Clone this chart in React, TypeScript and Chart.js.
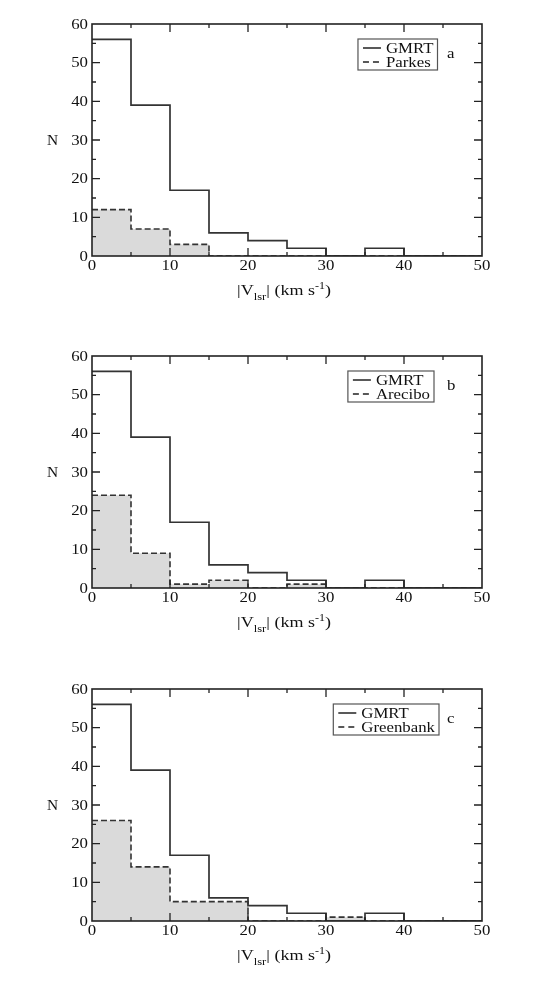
import React, { useEffect, useRef } from "react";
import { Chart, registerables } from "chart.js";

Chart.register(...registerables);

// ---- data ----
const binStarts = [0, 5, 10, 15, 20, 25, 30, 35, 40, 45];
const binWidth = 5;
const gmrtCounts = [56, 39, 17, 6, 4, 2, 0, 2, 0, 0];
const parkesCounts = [12, 7, 3, 0, 0, 0, 0, 0, 0, 0];
const areciboCounts = [24, 9, 1, 2, 0, 1, 0, 0, 0, 0];
const greenbankCounts = [26, 14, 5, 5, 0, 0, 1, 0, 0, 0];
const xTickValues = [0, 10, 20, 30, 40, 50];
const xTickLabels = ["0", "10", "20", "30", "40", "50"];
const yTickValues = [0, 10, 20, 30, 40, 50, 60];
const yTickLabels = ["0", "10", "20", "30", "40", "50", "60"];
const mainName = "GMRT";
const compareNames = ["Parkes", "Arecibo", "Greenbank"];
const panelLetters = ["a", "b", "c"];
const xMin = 0, xMax = 50, yMin = 0, yMax = 60;

const compareSeries = [parkesCounts, areciboCounts, greenbankCounts];

function toSteps(counts: number[]) {
  const pts = counts.map((c, i) => ({ x: binStarts[i], y: c }));
  pts.push({ x: binStarts[binStarts.length - 1] + binWidth, y: counts[counts.length - 1] });
  return pts;
}

const SERIF = '"Liberation Serif", "Times New Roman", serif';
const SX = 1.2; // horizontal stretch of the original figure's text

function txt(ctx: CanvasRenderingContext2D, s: string, x: number, y: number, size: number, align: CanvasTextAlign = "left", sx = SX) {
  ctx.save();
  ctx.font = `${size}px ${SERIF}`;
  ctx.textAlign = align;
  ctx.textBaseline = "alphabetic";
  ctx.translate(x, y);
  ctx.scale(sx, 1);
  ctx.fillText(s, 0, 0);
  ctx.restore();
}
function tw(ctx: CanvasRenderingContext2D, s: string, size: number, sx = SX) {
  ctx.save();
  ctx.font = `${size}px ${SERIF}`;
  const w = ctx.measureText(s).width * sx;
  ctx.restore();
  return w;
}

function makeDecor(idx: number, legendRight: number) {
  return {
    id: "decor" + idx,
    afterDraw(chart: any) {
      const ctx: CanvasRenderingContext2D = chart.ctx;
      const { left, right, top, bottom } = chart.chartArea;
      const xs = chart.scales.x;
      const ys = chart.scales.y;
      ctx.save();
      ctx.strokeStyle = "#222";
      ctx.fillStyle = "#111";
      // frame
      ctx.lineWidth = 1.6;
      ctx.strokeRect(left, top, right - left, bottom - top);
      // ticks (major at labels, minor halfway)
      ctx.lineWidth = 1.3;
      ctx.beginPath();
      for (let i = 0; i < xTickValues.length; i++) {
        const v = xTickValues[i];
        const vals = [v];
        if (i < xTickValues.length - 1) vals.push((v + xTickValues[i + 1]) / 2);
        vals.forEach((val, k) => {
          const px = xs.getPixelForValue(val);
          if (Math.abs(px - left) < 1 || Math.abs(px - right) < 1) return;
          const L = k === 0 ? 8 : 4;
          ctx.moveTo(px, bottom); ctx.lineTo(px, bottom - L);
          ctx.moveTo(px, top); ctx.lineTo(px, top + L);
        });
      }
      for (let i = 0; i < yTickValues.length; i++) {
        const v = yTickValues[i];
        const vals = [v];
        if (i < yTickValues.length - 1) vals.push((v + yTickValues[i + 1]) / 2);
        vals.forEach((val, k) => {
          const py = ys.getPixelForValue(val);
          if (Math.abs(py - top) < 1 || Math.abs(py - bottom) < 1) return;
          const L = k === 0 ? 8 : 4;
          ctx.moveTo(left, py); ctx.lineTo(left + L, py);
          ctx.moveTo(right, py); ctx.lineTo(right - L, py);
        });
      }
      ctx.stroke();
      // tick labels
      xTickValues.forEach((v, i) => {
        txt(ctx, xTickLabels[i], xs.getPixelForValue(v), bottom + 13.5, 14, "center");
      });
      yTickValues.forEach((v, i) => {
        txt(ctx, yTickLabels[i], left - 4, ys.getPixelForValue(v) + 4.7, 14, "right");
      });
      // y title
      txt(ctx, "N", 44.5, (top + bottom) / 2 + 4.6, 14, "center", 1.1);
      // x title: |V_lsr| (km s^-1)
      const parts: [string, number, number][] = [
        ["|V", 15, 0],
        ["lsr", 10.5, 5],
        ["| (km s", 15, 0],
        ["-1", 10, -6],
        [")", 15, 0],
      ];
      const total = parts.reduce((a, p) => a + tw(ctx, p[0], p[1]), 0);
      let cx = (left + right) / 2 - 3 - total / 2;
      const base = bottom + 39;
      parts.forEach((p) => {
        txt(ctx, p[0], cx, base + p[2], p[1], "left");
        cx += tw(ctx, p[0], p[1]);
      });
      // legend
      const names = [mainName, compareNames[idx]];
      const maxW = Math.max(...names.map((n) => tw(ctx, n, 14)));
      const textStart = legendRight - 4 - maxW;
      const boxLeft = textStart - 28;
      const boxTop = top + 15;
      const boxBottom = top + 46;
      ctx.lineWidth = 1.2;
      ctx.strokeStyle = "#555";
      ctx.strokeRect(boxLeft, boxTop, legendRight - boxLeft, boxBottom - boxTop);
      const rows = [top + 28.5, top + 42.5];
      ctx.strokeStyle = "#222";
      ctx.lineWidth = 1.5;
      rows.forEach((by, r) => {
        ctx.setLineDash(r === 0 ? [] : [6, 4]);
        ctx.beginPath();
        ctx.moveTo(boxLeft + 5, by - 4.5);
        ctx.lineTo(boxLeft + 23, by - 4.5);
        ctx.stroke();
        txt(ctx, names[r], textStart, by, 14, "left");
      });
      ctx.setLineDash([]);
      txt(ctx, panelLetters[idx], 439, top + 34, 14, "left");
      ctx.restore();
    },
  };
}

function Panel({ idx, height, legendRight }: { idx: number; height: number; legendRight: number }) {
  const ref = useRef<HTMLCanvasElement | null>(null);
  useEffect(() => {
    if (!ref.current) return;
    const chart = new Chart(ref.current, {
      type: "line",
      data: {
        datasets: [
          {
            label: mainName,
            data: toSteps(gmrtCounts),
            stepped: "before",
            borderColor: "#333",
            borderWidth: 1.7,
            pointRadius: 0,
            fill: false,
          },
          {
            label: compareNames[idx],
            data: toSteps(compareSeries[idx]),
            stepped: "before",
            borderColor: "#333",
            borderWidth: 1.6,
            borderDash: [6, 3],
            pointRadius: 0,
            fill: "origin",
            backgroundColor: "#dadada",
          },
        ],
      } as any,
      options: {
        animation: false,
        responsive: false,
        devicePixelRatio: 1,
        layout: { padding: { left: 84, right: 55, top: 16, bottom: height - 248 } },
        plugins: { legend: { display: false }, tooltip: { enabled: false }, title: { display: false } },
        scales: {
          x: { type: "linear", min: xMin, max: xMax, display: false },
          y: { type: "linear", min: yMin, max: yMax, display: false },
        },
        events: [],
      } as any,
      plugins: [makeDecor(idx, legendRight)],
    });
    return () => chart.destroy();
  }, [idx, height, legendRight]);
  return <canvas ref={ref} width={529} height={height} style={{ display: "block" }} />;
}

export default function App() {
  return (
    <div style={{ width: 529 }}>
      <Panel idx={0} height={332} legendRight={429.5} />
      <Panel idx={1} height={333} legendRight={426} />
      <Panel idx={2} height={300} legendRight={431} />
    </div>
  );
}
